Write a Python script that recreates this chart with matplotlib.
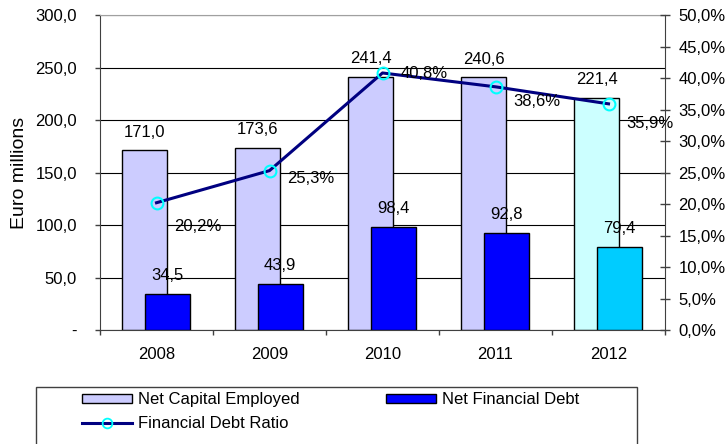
import matplotlib
matplotlib.use("Agg")
import matplotlib.pyplot as plt
from matplotlib.patches import Patch, Rectangle
from matplotlib.lines import Line2D
import numpy as np

plt.rcParams['font.family'] = ['Liberation Sans', 'DejaVu Sans']

years = ["2008", "2009", "2010", "2011", "2012"]
net_capital_employed = [171.0, 173.6, 241.4, 240.6, 221.4]
net_financial_debt = [34.5, 43.9, 98.4, 92.8, 79.4]
financial_debt_ratio = [20.2, 25.3, 40.8, 38.6, 35.9]

left_ticks = [0, 50, 100, 150, 200, 250, 300]
right_ticks = [0, 5, 10, 15, 20, 25, 30, 35, 40, 45, 50]

def fmt(v, suffix=""):
    return f"{v:.1f}".replace(".", ",") + suffix

# styling
nce_colors = ["#CCCCFF"] * 4 + ["#CCFFFF"]
nfd_colors = ["#0000FF"] * 4 + ["#00CCFF"]
pct_offsets_px = [(18, -24), (18, -8), (18, -1), (18, -15), (18, -20)]
FS = 12

W, H = 728, 444
fig = plt.figure(figsize=(W / 100, H / 100), dpi=100)
ax = fig.add_axes([100 / W, 1 - 330 / H, 565 / W, 315 / H])
ax2 = ax.twinx()

x = np.arange(len(years))
bw = 0.4
px2pt = 0.72

ax.bar(x - 0.105, net_capital_employed, bw, color=nce_colors,
       edgecolor="black", linewidth=1.0, zorder=2)
ax.bar(x + 0.095, net_financial_debt, bw, color=nfd_colors,
       edgecolor="black", linewidth=1.0, zorder=3)

for xi, v in zip(x - 0.105, net_capital_employed):
    ax.annotate(fmt(v), (xi, v), xytext=(0, 18 * px2pt), textcoords="offset points",
                ha="center", va="center", fontsize=FS, zorder=5)
for xi, v in zip(x + 0.095, net_financial_debt):
    ax.annotate(fmt(v), (xi, v), xytext=(0, 18 * px2pt), textcoords="offset points",
                ha="center", va="center", fontsize=FS, zorder=5)

ax.set_xlim(-0.5, len(years) - 0.5)
ax.set_ylim(0, 300)
ax.set_yticks(left_ticks)
ax.set_yticklabels(["-"] + [fmt(v) for v in left_ticks[1:]])
ax.set_xticks(x)
ax.set_xticklabels(years)
ax.set_xticks(np.arange(len(years) + 1) - 0.5, minor=True)
ax.tick_params(axis="x", which="major", length=0, pad=12, labelsize=FS)
ax.tick_params(axis="x", which="minor", length=5 * px2pt, direction="out", width=1, color="#404040")
ax.tick_params(axis="y", length=5 * px2pt, direction="out", pad=13, labelsize=FS, width=1, color="#404040")

ax.yaxis.grid(True, color="#000000", linewidth=0.8, zorder=0)
ax.set_axisbelow(True)
ax.spines["top"].set_color("#A0A0A0")
ax.spines["top"].set_linewidth(0.8)
ax.spines["left"].set_color("#404040")
ax.spines["bottom"].set_color("#404040")
ax.spines["right"].set_visible(False)

ax.set_ylabel("Euro millions", fontsize=14)
ax.yaxis.set_label_coords(-0.127, 0.5)

ax2.plot(x, financial_debt_ratio, color="#000080", linewidth=2.2, zorder=4,
         marker="o", markersize=8.5, markerfacecolor="none", markeredgecolor="#00FFFF",
         markeredgewidth=1.5)
for xi, v, (dx, dy) in zip(x, financial_debt_ratio, pct_offsets_px):
    ax2.annotate(fmt(v, "%"), (xi, v), xytext=(dx * px2pt, dy * px2pt), textcoords="offset points",
                 ha="left", va="center", fontsize=FS, zorder=6)
ax2.set_ylim(0, 50)
ax2.set_yticks(right_ticks)
ax2.set_yticklabels([fmt(v, "%") for v in right_ticks])
ax2.tick_params(axis="y", length=10 * px2pt, direction="inout", pad=6, labelsize=FS, width=1, color="#404040")
ax2.spines["right"].set_color("#404040")
ax2.spines["top"].set_visible(False)
ax2.spines["left"].set_visible(False)
ax2.spines["bottom"].set_visible(False)

# legend frame
fig.patches.append(Rectangle((36 / W, -0.05), (637 - 36) / W, 1 - 387 / H + 0.05,
                             transform=fig.transFigure, facecolor="none",
                             edgecolor="#404040", linewidth=1.0))

handles = [Patch(facecolor="#CCCCFF", edgecolor="black", linewidth=1.0),
           Line2D([], [], color="#000080", linewidth=2.2, marker="o", markersize=7,
                  markerfacecolor="none", markeredgecolor="#00FFFF", markeredgewidth=1.3),
           Patch(facecolor="#0000FF", edgecolor="black", linewidth=1.0)]
labels = ["Net Capital Employed", "Financial Debt Ratio", "Net Financial Debt"]
fig.legend(handles, labels, loc="upper left", ncol=2,
           bbox_to_anchor=(82 / W, 1 - 392 / H),
           bbox_transform=fig.transFigure, frameon=False,
           fontsize=FS, handlelength=3.0, handleheight=0.45,
           handletextpad=0.35, borderpad=0, labelspacing=0.55, borderaxespad=0,
           columnspacing=5.2)

fig.savefig("out.png", dpi=100)
